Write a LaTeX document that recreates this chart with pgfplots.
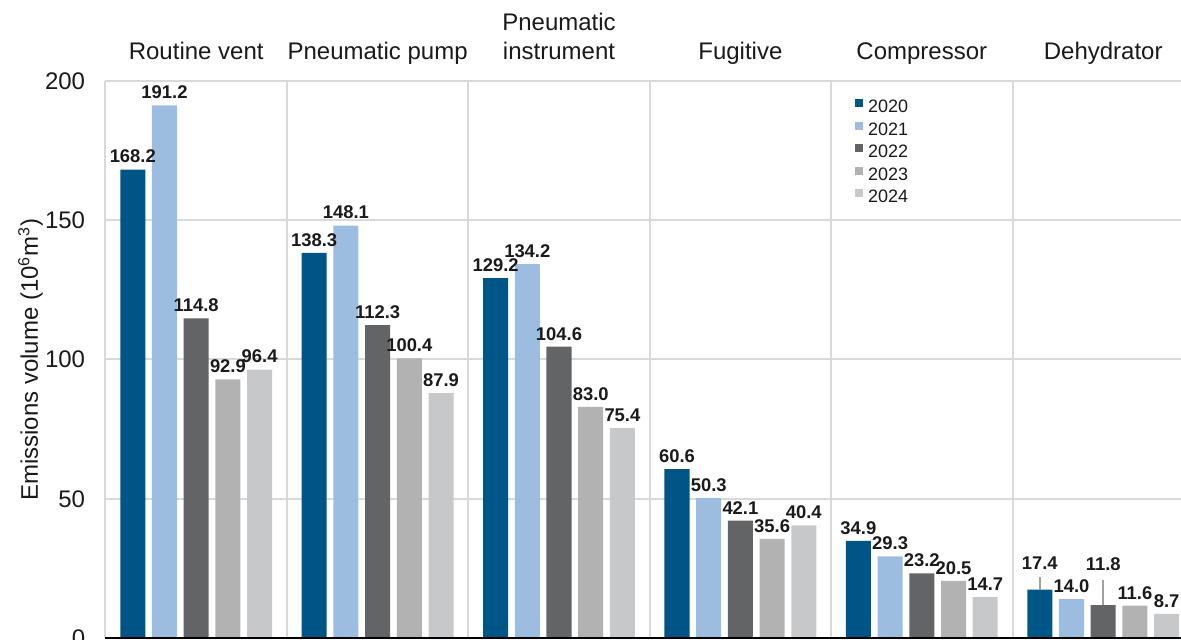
\documentclass[border=0pt]{standalone}
\usepackage{pgfplots}
\usepackage{pgfplotstable}
\pgfplotsset{compat=1.18}
\usepackage{fontspec}
\setmainfont{Liberation Sans}
\definecolor{cA}{HTML}{005587}
\definecolor{cB}{HTML}{9CBDE0}
\definecolor{cC}{HTML}{636466}
\definecolor{cD}{HTML}{B2B2B2}
\definecolor{cE}{HTML}{C7C8CA}
\definecolor{gridc}{HTML}{D9D9D9}
\definecolor{txt}{HTML}{1A1A1A}
\definecolor{leader}{HTML}{A0A0A0}

% x: category index (0 Routine vent ... 5 Dehydrator); dy: extra label lift (pt)
\pgfplotstableread{
x y dy
0 168.2 0
1 138.3 0
2 129.2 0
3 60.6 0
4 34.9 0
5 17.4 7
}\tA
\pgfplotstableread{
x y dy
0 191.2 0
1 148.1 0
2 134.2 0
3 50.3 0
4 29.3 0
5 14.0 0
}\tB
\pgfplotstableread{
x y dy
0 114.8 0
1 112.3 0
2 104.6 0
3 42.1 0
4 23.2 0
5 11.8 14
}\tC
\pgfplotstableread{
x y dy
0 92.9 0
1 100.4 0
2 83.0 0
3 35.6 0
4 20.5 0
5 11.6 0
}\tD
\pgfplotstableread{
x y dy
0 96.4 0
1 87.9 0
2 75.4 0
3 40.4 0
4 14.7 0
5 8.7 0
}\tE

\begin{document}
\begin{tikzpicture}
\useasboundingbox (-52.75pt,-1pt) rectangle (537.75pt,319pt);
\clip (-52.75pt,-1pt) rectangle (537.75pt,319pt);
\begin{axis}[
  at={(0pt,0pt)}, anchor=south west,
  scale only axis, width=544.2pt, height=278.5pt,
  xmin=-0.5, xmax=5.5, ymin=0, ymax=200,
  clip=false,
  axis line style={draw=none},
  xtick={-0.5,0.5,...,5.5}, xticklabels={},
  ytick={0,50,100,150,200},
  major tick length=0pt,
  xmajorgrids, ymajorgrids,
  grid style={gridc, line width=1pt},
  yticklabel shift=10pt,
  yticklabel style={font=\fontsize{12}{14}\selectfont, text=txt, inner sep=0pt},
  /pgf/number format/assume math mode=true,
  ybar, bar width=0.138,
  nodes near coords={\pgfmathprintnumber[fixed,fixed zerofill,precision=1,assume math mode=true]{\pgfplotspointmeta}},
  visualization depends on={\thisrow{dy} \as \extray},
  every node near coord/.append style={font=\bfseries\fontsize{9.2}{10}\selectfont, text=txt, inner sep=0pt, anchor=south, yshift={3pt+\extray pt}},
  legend style={at={(axis cs:3.63,193.5)}, anchor=north west, draw=none, fill=none,
    font=\fontsize{9}{9}\selectfont, text=txt, row sep=4.5pt, inner sep=0pt,
    nodes={inner sep=0pt, text height=6.5pt, text depth=0pt}},
  legend cell align=left,
  legend image code/.code={\fill[#1] (0pt,-0.5pt) rectangle (4pt,3.5pt); \path (6.5pt,0pt);},
]
\addplot[fill=cA, draw=none, bar shift=0pt] table[x expr=\thisrow{x}-0.3496, y=y] {\tA};
\addplot[fill=cB, draw=none, bar shift=0pt] table[x expr=\thisrow{x}-0.1748, y=y] {\tB};
\addplot[fill=cC, draw=none, bar shift=0pt] table[x expr=\thisrow{x}, y=y] {\tC};
\addplot[fill=cD, draw=none, bar shift=0pt] table[x expr=\thisrow{x}+0.1748, y=y] {\tD};
\addplot[fill=cE, draw=none, bar shift=0pt] table[x expr=\thisrow{x}+0.3496, y=y] {\tE};
\legend{2020,2021,2022,2023,2024}
\draw[black, line width=1pt] (rel axis cs:0,0) -- (rel axis cs:1,0);
\draw[leader, line width=1pt] (axis cs:4.6504,21.9) -- (axis cs:4.6504,17.4);
\draw[leader, line width=1pt] (axis cs:5,20.8) -- (axis cs:5,11.8);
\begin{scope}[every node/.style={font=\fontsize{12}{14}\selectfont, text=txt, anchor=base, inner sep=0pt}]
\node at ([yshift=10.5pt]axis cs:0,200) {Routine vent};
\node at ([yshift=10.5pt]axis cs:1,200) {Pneumatic pump};
\node at ([yshift=10.5pt]axis cs:2,200) {instrument};
\node at ([yshift=25pt]axis cs:2,200) {Pneumatic};
\node at ([yshift=10.5pt]axis cs:3,200) {Fugitive};
\node at ([yshift=10.5pt]axis cs:4,200) {Compressor};
\node at ([yshift=10.5pt]axis cs:5,200) {Dehydrator};
\node[rotate=90] at ([xshift=-33.75pt]rel axis cs:0,0.5) {Emissions volume (10\textsuperscript{6}m\textsuperscript{3})};
\end{scope}
\end{axis}
\end{tikzpicture}
\end{document}
